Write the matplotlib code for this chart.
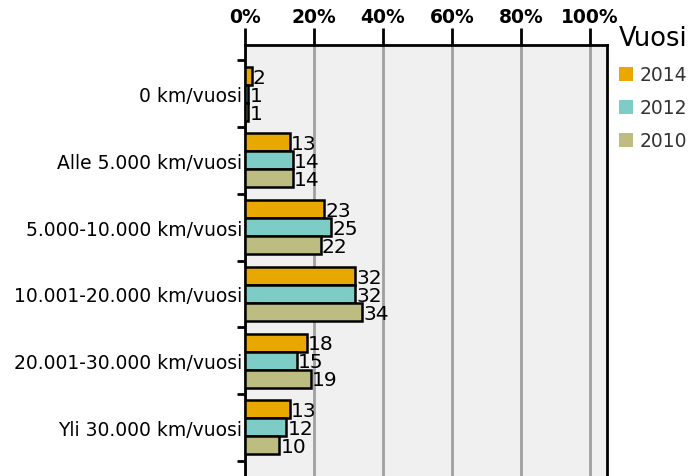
import matplotlib
matplotlib.use("Agg")
import matplotlib.pyplot as plt
import numpy as np
from matplotlib.patches import Patch

categories = ["0 km/vuosi", "Alle 5.000 km/vuosi", "5.000-10.000 km/vuosi",
              "10.001-20.000 km/vuosi", "20.001-30.000 km/vuosi", "Yli 30.000 km/vuosi"]
years = ["2014", "2012", "2010"]
v2014 = [2, 13, 23, 32, 18, 13]
v2012 = [1, 14, 25, 32, 15, 12]
v2010 = [1, 14, 22, 34, 19, 10]
series = [v2014, v2012, v2010]
colors = ["#E8A800", "#7DCDC6", "#BDBD82"]
xticks = [0, 20, 40, 60, 80, 100]

fig = plt.figure(figsize=(6.94, 4.77), dpi=100)
ax = fig.add_axes([245/694, 0.0, (607-245)/694, 1 - 46/477])
ax.set_facecolor("#F0F0F0")

n = len(categories)
bh = 0.27
for i, (vals, c) in enumerate(zip(series, colors)):
    y = np.arange(n) + (i - 1) * bh
    ax.barh(y, vals, height=bh, color=c, edgecolor="black", linewidth=1.8, zorder=3)
    for yy, v in zip(y, vals):
        ax.text(v + 0.3, yy + 0.02, str(v), va="center", ha="left", fontsize=14.5, zorder=4)

ax.set_xlim(0, 105)
ax.set_ylim(n - 0.5 + 0.23, -0.5 - 0.23)
ax.xaxis.tick_top()
ax.set_xticks(xticks)
ax.set_xticklabels([f"{t}%" for t in xticks], fontsize=13.5, fontweight="bold")
ax.tick_params(axis="x", length=12, width=2, pad=2, color="black")
ax.grid(axis="x", color="#A0A0A0", linewidth=2, zorder=0)

ax.set_yticks(np.arange(n))
ax.set_yticklabels(categories, fontsize=13.5)
ax.tick_params(axis="y", length=0, pad=2)
ax.set_yticks(np.arange(n + 1) - 0.5, minor=True)
ax.tick_params(axis="y", which="minor", length=6, width=2)

for s in ["top", "right", "left"]:
    ax.spines[s].set_linewidth(2)
    ax.spines[s].set_color("black")
ax.spines["bottom"].set_visible(False)

handles = [Patch(facecolor=c, edgecolor="none") for c in colors]
leg = fig.legend(handles, years, loc="upper left", bbox_to_anchor=(606/694, 1 - 13/477),
                 frameon=False, title="Vuosi", fontsize=13.5, title_fontsize=18.5,
                 handlelength=0.75, handleheight=0.75, handletextpad=0.35, labelspacing=0.75,
                 alignment="left", borderpad=0.2)
for t in leg.get_texts():
    t.set_color("#333333")

fig.savefig("out.png", dpi=100)
